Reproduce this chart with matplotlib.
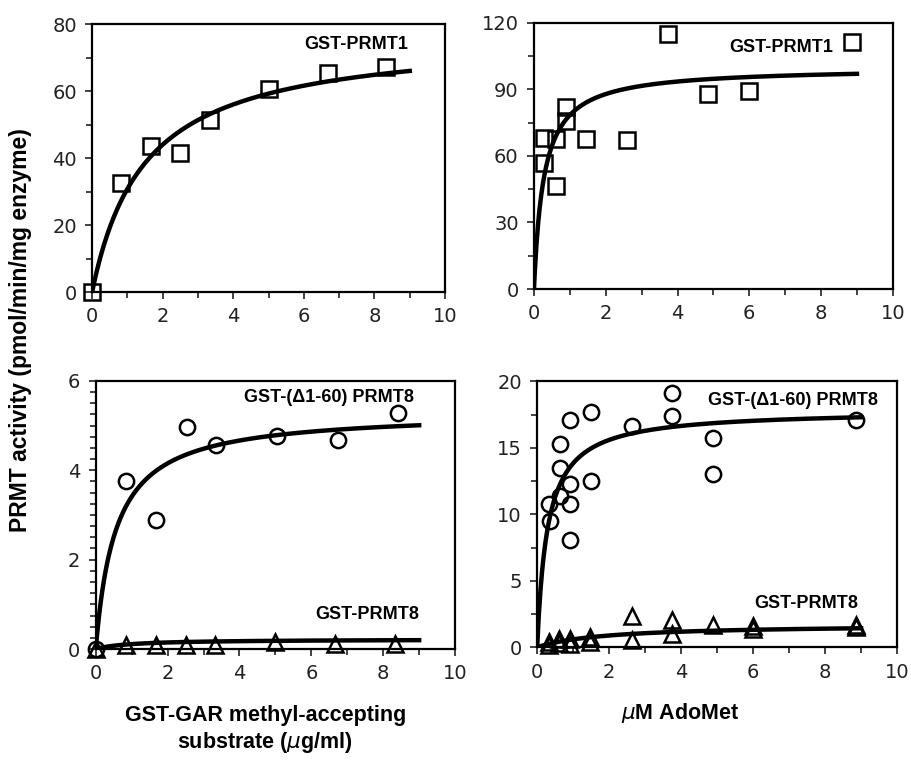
import numpy as np
import matplotlib
matplotlib.use("Agg")
import matplotlib.pyplot as plt
from matplotlib.ticker import MultipleLocator

# panel A: substrate titration, GST-PRMT1 (squares)
gar_prmt1_x = [0, 0.83, 1.67, 2.5, 3.33, 5.0, 6.67, 8.33]
gar_prmt1_y = [0, 32.4, 43.6, 41.4, 51.3, 60.5, 65.3, 67.3]

# panel B: AdoMet titration, GST-PRMT1 (squares)
ado_prmt1_x = [0.28, 0.28, 0.62, 0.62, 0.9, 0.9, 1.45, 2.59, 3.73, 4.86, 6.0, 8.87]
ado_prmt1_y = [67.9, 57.0, 67.5, 46.5, 82.2, 75.9, 67.5, 67.2, 114.9, 87.9, 89.4, 111.4]

# panel C: substrate titration, PRMT8 forms
gar_d60_x = [0, 0.84, 1.69, 2.54, 3.36, 5.05, 6.73, 8.40]
gar_d60_y = [0, 3.77, 2.89, 4.96, 4.57, 4.77, 4.68, 5.29]
gar_prmt8_x = [0, 0.83, 1.67, 2.5, 3.33, 5.0, 6.67, 8.33]
gar_prmt8_y = [0, 0.08, 0.10, 0.08, 0.10, 0.15, 0.11, 0.12]

# panel D: AdoMet titration, PRMT8 forms
ado_d60_x = [0.33, 0.35, 0.63, 0.63, 0.63, 0.91, 0.91, 0.91, 0.91, 1.49, 1.49,
             2.63, 3.74, 3.74, 4.88, 4.88, 8.85]
ado_d60_y = [10.8, 9.5, 15.3, 13.5, 11.4, 17.1, 12.3, 10.8, 8.1, 17.7, 12.5,
             16.6, 19.1, 17.4, 15.7, 13.0, 17.1]
ado_prmt8_x = [0.32, 0.32, 0.62, 0.62, 0.9, 0.9, 1.46, 1.46, 2.63, 2.63,
               3.74, 3.74, 4.89, 6.0, 6.0, 8.86, 8.86]
ado_prmt8_y = [0.42, 0.2, 0.6, 0.3, 0.6, 0.25, 0.8, 0.42, 2.36, 0.55,
               2.05, 0.98, 1.68, 1.6, 1.4, 1.68, 1.5]

# Michaelis-Menten fits: (Vmax, Km)
fit_gar_prmt1 = (77.0, 1.5)
fit_ado_prmt1 = (100.0, 0.275)
fit_gar_d60 = (5.32, 0.56)
fit_gar_prmt8 = (0.22, 1.0)
fit_ado_d60 = (17.85, 0.29)
fit_ado_prmt8 = (1.735, 1.92)

label_font = ["Liberation Sans", "DejaVu Sans"]


def mm(fit, x):
    vmax, km = fit
    return vmax * x / (km + x)


def style_axis(ax, ymax, ymajor, yminor):
    ax.set_xlim(0, 10)
    ax.set_ylim(0, ymax)
    ax.xaxis.set_major_locator(MultipleLocator(2))
    ax.xaxis.set_minor_locator(MultipleLocator(1))
    ax.yaxis.set_major_locator(MultipleLocator(ymajor))
    ax.yaxis.set_minor_locator(MultipleLocator(yminor))
    ax.tick_params(which="both", direction="out", top=False, right=False,
                   width=1.2, colors="#222222")
    ax.tick_params(which="major", length=5, labelsize=14, pad=6)
    ax.tick_params(which="minor", length=4)
    for s in ax.spines.values():
        s.set_linewidth(1.6)


def curve(ax, fit):
    xs = np.linspace(0, 9, 400)
    ax.plot(xs, mm(fit, xs), color="black", lw=3.2, zorder=2)


def pts(ax, x, y, marker, ms):
    ax.plot(x, y, linestyle="none", marker=marker, ms=ms, mfc="none",
            mec="black", mew=1.8, clip_on=False, zorder=3)


def note(ax, x, y, s):
    ax.text(x, y, s, transform=ax.transAxes, ha="right", va="center",
            fontsize=13, fontweight="bold", family=label_font)


fig = plt.figure(figsize=(9.12, 7.63), dpi=100)

ax1 = fig.add_axes([0.101, 0.6173, 0.387, 0.3512])
style_axis(ax1, 80, 20, 10)
curve(ax1, fit_gar_prmt1)
pts(ax1, gar_prmt1_x, gar_prmt1_y, "s", 12)
note(ax1, 0.895, 0.925, "GST-PRMT1")

ax2 = fig.add_axes([0.5855, 0.6212, 0.3935, 0.3488])
style_axis(ax2, 120, 30, 15)
curve(ax2, fit_ado_prmt1)
pts(ax2, ado_prmt1_x, ado_prmt1_y, "s", 12)
note(ax2, 0.833, 0.906, "GST-PRMT1")

ax3 = fig.add_axes([0.105, 0.1494, 0.394, 0.3513])
style_axis(ax3, 6, 2, 0.25)
curve(ax3, fit_gar_d60)
curve(ax3, fit_gar_prmt8)
pts(ax3, gar_d60_x, gar_d60_y, "o", 11)
pts(ax3, gar_prmt8_x, gar_prmt8_y, "^", 11)
note(ax3, 0.886, 0.94, "GST-(\u03941-60) PRMT8")
note(ax3, 0.90, 0.127, "GST-PRMT8")

ax4 = fig.add_axes([0.589, 0.1517, 0.3946, 0.3486])
style_axis(ax4, 20, 5, 2.5)
curve(ax4, fit_ado_d60)
curve(ax4, fit_ado_prmt8)
pts(ax4, ado_d60_x, ado_d60_y, "o", 11)
pts(ax4, ado_prmt8_x, ado_prmt8_y, "^", 11)
note(ax4, 0.947, 0.929, "GST-(\u03941-60) PRMT8")
note(ax4, 0.892, 0.165, "GST-PRMT8")

fig.text(0.022, 0.567, "PRMT activity (pmol/min/mg enzyme)", rotation=90,
         ha="center", va="center", fontsize=16.5, fontweight="bold",
         family=label_font)
fig.text(0.291, 0.043, "GST-GAR methyl-accepting\nsubstrate ($\\mu$g/ml)",
         ha="center", va="center", fontsize=15.5, fontweight="bold",
         family=label_font, linespacing=1.25)
fig.text(0.746, 0.066, "$\\mu$M AdoMet", ha="center", va="center",
         fontsize=15.5, fontweight="bold", family=label_font)

fig.savefig("out.png", dpi=100)
